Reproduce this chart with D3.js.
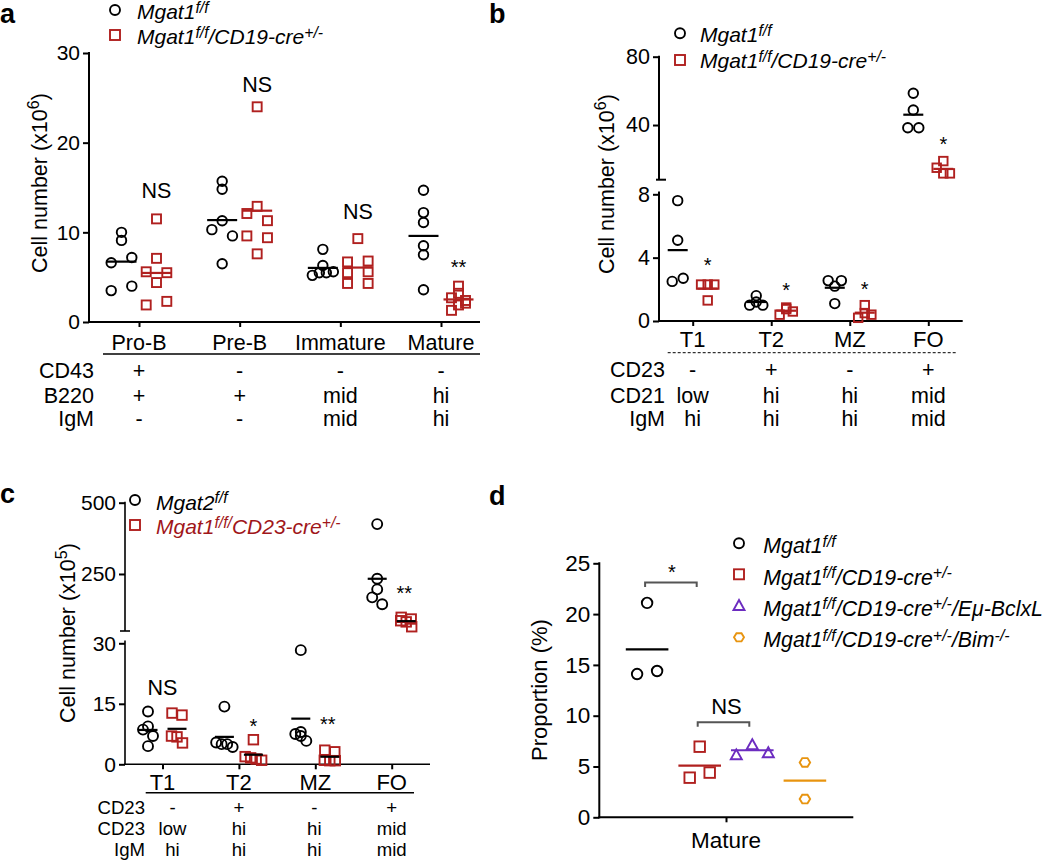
<!DOCTYPE html>
<html><head><meta charset="utf-8">
<script src="https://cdn.jsdelivr.net/npm/d3@7/dist/d3.min.js"></script>
<style>body{margin:0;background:#fff}</style>
</head><body>
<script>
// ---------------- DATA ----------------
const catsA = ["Pro-B","Pre-B","Immature","Mature"];
const ctrlA = [[6.6,10.0,9.1,7.2,3.5,4.0],[10.3,15.7,14.8,11.3,9.6,6.5],[8.1,6.3,5.2,5.5,5.5,5.6],[14.7,12.2,11.1,8.5,7.5,3.6]];
const koA   = [[11.5,7.1,5.6,5.5,4.4,1.9,2.3],[24.0,12.1,12.9,11.3,9.6,9.4,7.6],[9.3,6.7,6.8,5.5,5.6,4.3,4.3],[4.0,2.7,3.2,1.3,1.9,2.1,2.4]];
const ticksA = [0,10,20,30];
const sigA = [{cat:"Pro-B",label:"NS",v:14.7},{cat:"Pre-B",label:"NS",v:26.5},{cat:"Immature",label:"NS",v:12.4},{cat:"Mature",label:"**",v:6.6}];
const rowNamesA = ["CD43","B220","IgM"];
const rowValsA = [["+","-","-","-"],["+","+","mid","hi"],["-","-","mid","hi"]];

const catsB = ["T1","T2","MZ","FO"];
const ctrlB = [[7.6,5.1,2.5,2.7],[1.0,1.2,1.6,1.0],[2.55,2.2,2.55,1.1],[58.6,48.8,38.4,38.4]];
const koB   = [[2.3,2.3,2.3,1.3],[0.4,0.85,0.75,0.6],[0.2,0.5,1.0,0.4],[18.9,15.0,11.7,11.7]];
const ticksBlow = [0,4,8], ticksBup = [40,80];
const sigB = [{cat:"T1",label:"*",v:3.8},{cat:"T2",label:"*",v:2.2},{cat:"MZ",label:"*",v:2.3},{cat:"FO",label:"*",v:31}];
const rowNamesB = ["CD23","CD21","IgM"];
const rowValsB = [["-","+","-","+"],["low","hi","hi","mid"],["hi","hi","hi","mid"]];

const catsC = ["T1","T2","MZ","FO"];
const ctrlC = [[13.1,9.4,8.6,7.0,4.5],[14.3,5.4,5.0,5.0,4.3],[28.3,8.0,7.5,7.0,5.8],[425,233,196,168,144]];
const koC   = [[12.7,12.2,7.0,6.8,5.3],[6.1,1.9,1.6,1.3,1.0],[3.5,3.1,1.0,0.9,0.9],[98,92,86,82,65]];
const ticksClow = [0,15,30], ticksCup = [250,500];
const sigC = [{cat:"T1",label:"NS",v:19.1,side:"mid"},{cat:"T2",label:"*",v:10.6},{cat:"MZ",label:"**",v:11.1},{cat:"FO",label:"**",v:196}];
const rowNamesC = ["CD23","CD23","IgM"];
const rowValsC = [["-","+","-","+"],["low","hi","hi","mid"],["hi","hi","hi","mid"]];

const groupsD = ["ctrl","cre","bclxl","bim"];
const valsD = [[14.1,21.1,14.4],[3.9,6.95,4.4],[6.2,7.2,6.4],[5.4,1.8]];
const ticksD = [0,5,10,15,20,25];

// ---------------- STYLE ----------------
const FONT = "'Liberation Sans', Arial, Helvetica, sans-serif";
const RED = "#b0201f", RED_TXT = "#a0161a", PURPLE = "#6c2cc0", ORANGE = "#e8940f", GRAY = "#555";

const svg = d3.select("body").append("svg").attr("width",1050).attr("height",862)
  .attr("font-family", FONT);

function rich(sel, parts, fs, ratio=0.75, shift=0.3) {
  let up = false;
  parts.forEach(([t, sup]) => {
    const ts = sel.append("tspan").text(t);
    if (sup) { ts.attr("font-size", fs*ratio); if (!up) { ts.attr("dy", -fs*shift); up = true; } }
    else if (up) { ts.attr("dy", fs*shift); up = false; }
  });
}

function marker(g, shape, x, y, color, s) {
  if (shape === "circle") g.append("circle").attr("cx",x).attr("cy",y).attr("r",s*0.5)
      .attr("fill","none").attr("stroke",color).attr("stroke-width",1.9);
  else if (shape === "square") g.append("rect").attr("x",x-s/2).attr("y",y-s/2).attr("width",s).attr("height",s)
      .attr("fill","none").attr("stroke",color).attr("stroke-width",1.9);
  else if (shape === "triangle") {
    const h = s*0.9;
    g.append("path").attr("d",`M${x},${y-h/2}L${x+s/2},${y+h/2}L${x-s/2},${y+h/2}Z`)
      .attr("fill","none").attr("stroke",color).attr("stroke-width",1.9).attr("stroke-linejoin","miter");
  } else if (shape === "hexagon") {
    const r = s/2, p = [];
    for (let k=0;k<6;k++){ const a = Math.PI/3*k; p.push([x+r*Math.cos(a), y+r*0.95*Math.sin(a)]); }
    g.append("path").attr("d","M"+p.map(q=>q.join(",")).join("L")+"Z")
      .attr("fill","none").attr("stroke",color).attr("stroke-width",1.9);
  }
}

function swarm(vals, yf, pairStep, step, rowH) {
  const pts = vals.map((v,i)=>({v, y:yf(v), i})).sort((a,b)=>a.v-b.v || a.i-b.i);
  const rows = []; let cur = null;
  pts.forEach(p => { if (cur && Math.abs(p.y-cur[0].y) <= rowH) cur.push(p); else { cur=[p]; rows.push(cur); } });
  rows.forEach(r => {
    r.sort((a,b)=>a.i-b.i);
    const n = r.length;
    r.forEach((p,k) => { p.dx = n===1 ? 0 : n===2 ? (k===0?-pairStep:pairStep) : (k-(n-1)/2)*step; });
  });
  return pts;
}

function drawGroup(g, vals, cx, yf, shape, color, size, o) {
  const pts = swarm(vals, yf, o.pair, o.step, o.rowH);
  const m = d3.mean(vals);
  pts.forEach(p => marker(g, shape, cx+p.dx, p.y, color, size));
  g.append("line").attr("x1",cx-o.half).attr("x2",cx+o.half).attr("y1",yf(m)).attr("y2",yf(m))
    .attr("stroke",o.lineColor||color).attr("stroke-width",2.2);
}

function yAxisTicks(g, scale, ticks, x, fs) {
  const gg = g.append("g").attr("transform",`translate(${x},0)`)
    .call(d3.axisLeft(scale).tickValues(ticks).tickSize(6).tickPadding(3).tickFormat(d3.format("d")));
  gg.select(".domain").remove();
  gg.selectAll("line").attr("stroke","#000").attr("stroke-width",2);
  gg.selectAll("text").attr("font-size",fs).attr("font-family",FONT).attr("fill","#000");
}
function xAxisTicks(g, scale, y) {
  const gg = g.append("g").attr("transform",`translate(0,${y})`)
    .call(d3.axisBottom(scale).tickSize(5).tickFormat(""));
  gg.select(".domain").remove();
  gg.selectAll("line").attr("stroke","#000").attr("stroke-width",2);
}
function vline(g,x,y1,y2,w=2){ g.append("line").attr("x1",x).attr("x2",x).attr("y1",y1).attr("y2",y2).attr("stroke","#000").attr("stroke-width",w); }
function hline(g,x1,x2,y,w=2,color="#000"){ return g.append("line").attr("x1",x1).attr("x2",x2).attr("y1",y).attr("y2",y).attr("stroke",color).attr("stroke-width",w); }

function yTitle(g, x, y, parts, fs) {
  const t = g.append("text").attr("transform",`translate(${x},${y}) rotate(-90)`)
    .attr("text-anchor","middle").attr("font-size",fs).attr("fill","#000");
  rich(t, parts, fs, 0.75, 0.38);
}
function sigText(g, x, yc, label, fs) {
  const base = label === "NS" ? yc + fs*0.36 : yc + fs*0.55;
  g.append("text").attr("x",x).attr("y",base).attr("text-anchor","middle").attr("font-size",fs).text(label);
}
function panelLabel(x,y,t){ svg.append("text").attr("x",x).attr("y",y).attr("font-size",27).attr("font-weight","bold").text(t); }
function legendRow(g, shape, color, mx, my, tx, ty, parts, fs, tcolor="#000") {
  marker(g, shape, mx, my, color, shape==="triangle"?11:10);
  const t = g.append("text").attr("x",tx).attr("y",ty).attr("font-size",fs).attr("font-style","italic").attr("fill",tcolor);
  rich(t, parts, fs);
}
function table(g, names, vals, scale, nameX, ys, fs, shift=[0,0,0,0]) {
  names.forEach((n,r) => {
    g.append("text").attr("x",nameX).attr("y",ys[r]).attr("text-anchor","end").attr("font-size",fs).text(n);
    vals[r].forEach((v,c) => g.append("text").attr("x",scale(scale.domain()[c])+shift[c]).attr("y",ys[r])
      .attr("text-anchor","middle").attr("font-size",fs).text(v));
  });
}

// ---------------- PANEL A ----------------
{
  const g = svg.append("g");
  const y = d3.scaleLinear().domain([0,30]).range([322,53]);
  const x = d3.scalePoint().domain(catsA).range([139,441]);
  const ax = 89, off = 17.5;
  vline(g, ax, 52, 323); hline(g, ax-1, 480, 322);
  yAxisTicks(g, y, ticksA, ax, 21);
  xAxisTicks(g, x, 322);
  const o = {pair:10.3, step:7, rowH:7.2, half:15};
  catsA.forEach((c,i) => {
    drawGroup(g, ctrlA[i], x(c)-off, y, "circle", "#000", 9.5, o);
    drawGroup(g, koA[i], x(c)+off, y, "square", RED, 9, o);
  });
  sigA.forEach(s => sigText(g, x(s.cat)+off, y(s.v), s.label, s.label==="NS"?21.5:20));
  catsA.forEach(c => g.append("text").attr("x",x(c)).attr("y",349.5).attr("text-anchor","middle").attr("font-size",21.5).text(c));
  hline(g, 103, 480, 354, 1.5);
  table(g, rowNamesA, rowValsA, x, 94, [377.5,402.5,425.5], 21.5);
  yTitle(g, 47, 183, [["Cell number (x10"],["6",1],[")"]], 21.5);
  legendRow(g,"circle","#000",115,10,137,19,[["Mgat1"],["f/f",1]],21);
  legendRow(g,"square",RED,115,35,137,44,[["Mgat1"],["f/f",1],["/CD19-cre"],["+/-",1]],21);
  panelLabel(0,23,"a");
}

// ---------------- PANEL B ----------------
{
  const g = svg.append("g");
  const y0 = d3.scaleLinear().domain([0,8]).range([321,194.3]);
  const y1 = d3.scaleLinear().domain([8,80]).range([179.7,56.7]);
  const yf = v => v <= 8 ? y0(v) : y1(v);
  const x = d3.scalePoint().domain(catsB).range([692.7,928.3]);
  const ax = 659, off = 15;
  vline(g, ax, 55.7, 179.7); hline(g, ax-3, ax+7, 179.7);
  vline(g, ax, 191.5, 322); hline(g, ax-1, 962.7, 321);
  yAxisTicks(g, y0, ticksBlow, ax, 21.5);
  yAxisTicks(g, y1, ticksBup, ax, 21.5);
  xAxisTicks(g, x, 321);
  const o = {pair:5.5, step:6.6, rowH:7, half:10};
  catsB.forEach((c,i) => {
    drawGroup(g, ctrlB[i], x(c)-off, yf, "circle", "#000", 9.5, o);
    drawGroup(g, koB[i], x(c)+off, yf, "square", RED, 8.5, o);
  });
  sigB.forEach(s => sigText(g, x(s.cat)+off, yf(s.v), s.label, 20));
  catsB.forEach(c => g.append("text").attr("x",x(c)).attr("y",346.5).attr("text-anchor","middle").attr("font-size",22).text(c));
  hline(g, 667.7, 957.3, 352.7, 1).attr("stroke-dasharray","3,2");
  table(g, rowNamesB, rowValsB, x, 665, [377,403,426], 21.5);
  yTitle(g, 614, 184, [["Cell number (x10"],["6",1],[")"]], 21.5);
  legendRow(g,"circle","#000",680,33.3,700,42,[["Mgat1"],["f/f",1]],21);
  legendRow(g,"square",RED,680,60,700,68,[["Mgat1"],["f/f",1],["/CD19-cre"],["+/-",1]],21);
  panelLabel(489,23,"b");
}

// ---------------- PANEL C ----------------
{
  const g = svg.append("g");
  const y0 = d3.scaleLinear().domain([0,30]).range([764.3,643.3]);
  const y1 = d3.scaleLinear().domain([50,500]).range([631,502.7]);
  const yf = v => v <= 30 ? y0(v) : y1(v);
  const x = d3.scalePoint().domain(catsC).range([162.5,391.7]);
  const ax = 125, off = 14.5;
  vline(g, ax, 501.7, 631, 1.6); hline(g, ax-5, ax+5, 631, 1.6);
  vline(g, ax, 640.5, 765, 1.6); hline(g, ax-1, 430, 764.3, 1.6);
  yAxisTicks(g, y0, ticksClow, ax, 21);
  yAxisTicks(g, y1, ticksCup, ax, 21);
  xAxisTicks(g, x, 764.3);
  const o = {pair:5, step:5.5, rowH:7, half:9.5, lineColor:"#000"};
  catsC.forEach((c,i) => {
    drawGroup(g, ctrlC[i], x(c)-off, yf, "circle", "#000", 10, o);
    drawGroup(g, koC[i], x(c)+off, yf, "square", RED, 9.5, o);
  });
  sigC.forEach(s => sigText(g, s.side==="mid" ? x(s.cat) : x(s.cat)+off+ (s.label==="**"?-2:0), yf(s.v), s.label, s.label==="NS"?21.5:20));
  catsC.forEach(c => g.append("text").attr("x",x(c)).attr("y",789.5).attr("text-anchor","middle").attr("font-size",22).text(c));
  hline(g, 145.7, 414, 792.7, 1.5);
  table(g, rowNamesC, rowValsC, x, 145, [813.5,834.5,855.5], 18.6, [10,0,-1,0]);
  yTitle(g, 75, 633, [["Cell number (x10"],["5",1],[")"]], 21.5);
  legendRow(g,"circle","#000",135,500,156,509.5,[["Mgat2"],["f/f",1]],21);
  legendRow(g,"square",RED,135,525,156,534,[["Mgat1"],["f/f/",1],["CD23-cre"],["+/-",1]],21, RED_TXT);
  panelLabel(0,503,"c");
}

// ---------------- PANEL D ----------------
{
  const g = svg.append("g");
  const y = d3.scaleLinear().domain([0,25]).range([817.3,563.3]);
  const xg = d3.scalePoint().domain(groupsD).range([647.1,804.9]);
  const xt = d3.scalePoint().domain(["Mature"]).range([726,726]);
  const ax = 599.3;
  vline(g, ax, 562.3, 818.3); hline(g, ax-1, 853.3, 817.3);
  yAxisTicks(g, y, ticksD, ax, 22.5);
  xAxisTicks(g, xt, 817.3);
  const shapes = ["circle","square","triangle","hexagon"];
  const colors = ["#000", RED, PURPLE, ORANGE];
  const steps = [{pair:10,step:10},{pair:10,step:10},{pair:16,step:16},{pair:10,step:10}];
  groupsD.forEach((gname,i) => {
    drawGroup(g, valsD[i], xg(gname), y, shapes[i], colors[i], shapes[i]==="triangle"?11:10.5,
      {pair:steps[i].pair, step:steps[i].step, rowH:7, half:21.3});
  });
  function bracket(a, b, v) {
    const x1 = xg(a)-2, x2 = xg(b)-3, yy = y(v);
    g.append("path").attr("d",`M${x1},${yy+4.5}V${yy}H${x2}V${yy+4.5}`).attr("fill","none").attr("stroke",GRAY).attr("stroke-width",2);
    return (x1+x2)/2;
  }
  const sx = bracket("ctrl","cre",23.1);
  sigText(g, sx+1, y(24.55), "*", 20);
  const nx = bracket("cre","bclxl",9.35);
  sigText(g, nx+3, y(10.9), "NS", 22);
  g.append("text").attr("x",726).attr("y",848).attr("text-anchor","middle").attr("font-size",22.5).text("Mature");
  yTitle(g, 547, 690, [["Proportion (%)"]], 22);
  const tx = 763.3, fs = 21.3;
  legendRow(g,"circle","#000",739,543.3,tx,553,[["Mgat1"],["f/f",1]],fs);
  legendRow(g,"square",RED,739,574.3,tx,584.5,[["Mgat1"],["f/f",1],["/CD19-cre"],["+/-",1]],fs);
  legendRow(g,"triangle",PURPLE,739,605,tx,615.5,[["Mgat1"],["f/f",1],["/CD19-cre"],["+/-",1],["/Eμ-BclxL"]],fs);
  legendRow(g,"hexagon",ORANGE,739,637.3,tx,647,[["Mgat1"],["f/f",1],["/CD19-cre"],["+/-",1],["/Bim"],["-/-",1]],fs);
  panelLabel(489,505,"d");
}
</script>
</body></html>
